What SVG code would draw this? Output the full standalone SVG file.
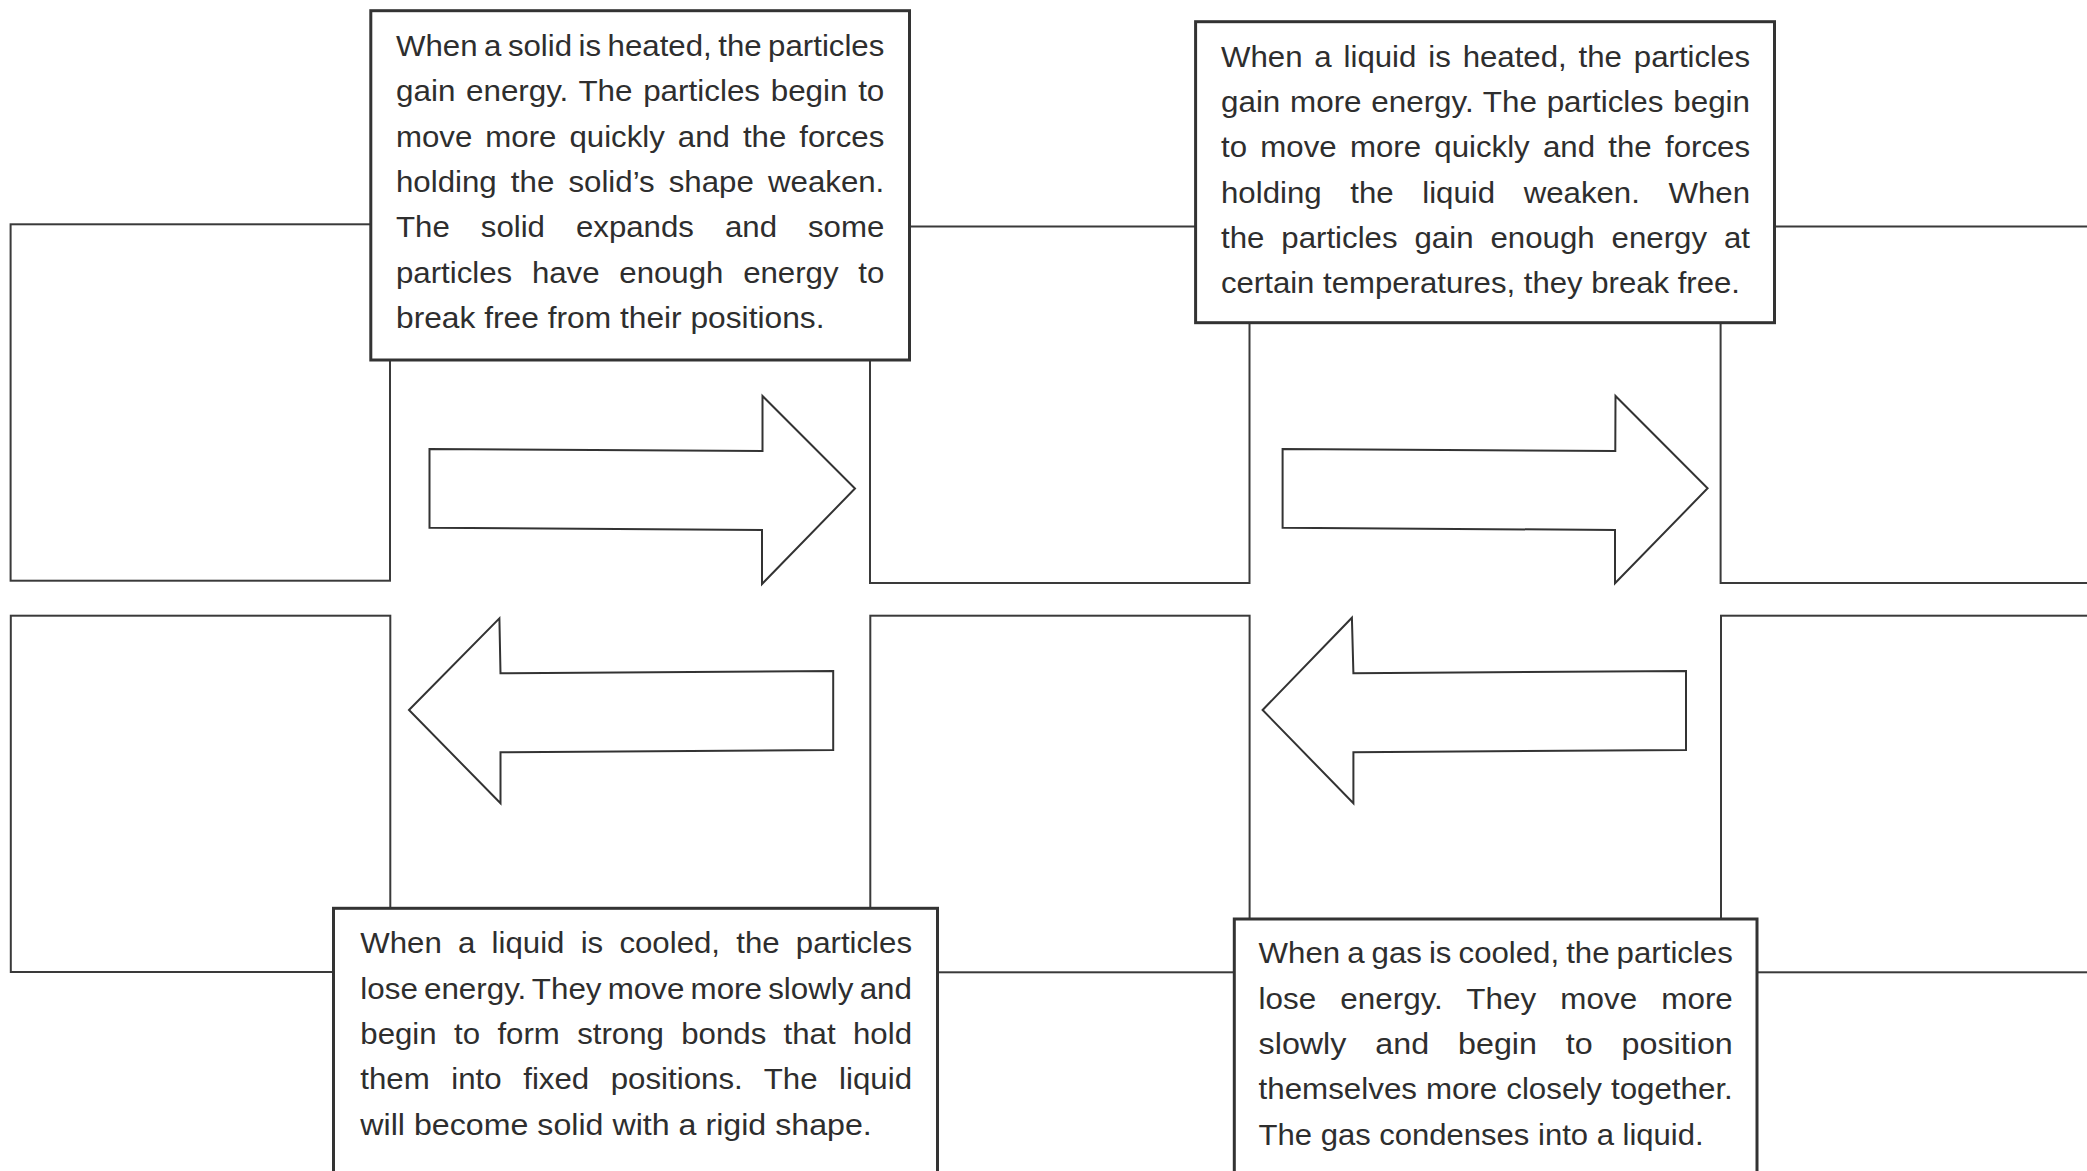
<svg xmlns="http://www.w3.org/2000/svg" width="2087" height="1171" viewBox="0 0 2087 1171">
<style>
.box{fill:#fff;stroke:#3a3a3a;stroke-width:2}
.tbox{fill:#fff;stroke:#333;stroke-width:3}
.arrow{fill:#fff;stroke:#333;stroke-width:2;stroke-linejoin:miter}
.t{font-family:"Liberation Sans",Arial,sans-serif;font-size:30px;fill:#2e2e2e}
</style>
<rect width="2087" height="1171" fill="#fff"/>
<g id="box-top-left"><rect class="box" x="10.6" y="224.3" width="379.4" height="356.4"/></g>
<g id="box-top-middle"><rect class="box" x="870" y="226.5" width="379.5" height="356.5"/></g>
<g id="box-top-right"><rect class="box" x="1720.6" y="226.5" width="420" height="356.5"/></g>
<g id="box-bottom-left"><rect class="box" x="10.8" y="615.7" width="379.5" height="356.3"/></g>
<g id="box-bottom-middle"><rect class="box" x="870.3" y="615.7" width="379.3" height="356.6"/></g>
<g id="box-bottom-right"><rect class="box" x="1721" y="615.7" width="420" height="356.6"/></g>
<g id="connectors">
<polygon class="arrow" points="429.5,449 762.5,451 762.5,396 855,488.5 762,584 762,530 429.5,527.7"/>
<polygon class="arrow" points="1282.6,449 1615.3,451 1615.5,396 1707.6,488.3 1615,583.3 1615,530 1282.6,527.7"/>
<polygon class="arrow" points="409,710 499.4,618.3 500.5,673.3 833.2,671 833.2,750 500.5,752.3 500.5,803.3"/>
<polygon class="arrow" points="1262.6,710 1351.9,617.7 1353.4,673.3 1686,671 1686,750 1353.4,752.3 1353.4,803.3"/>
</g>
<g id="text-solid-heated">
<rect class="tbox" x="370.8" y="10.7" width="538.7" height="349.3"/>
<text class="t" x="396" y="56" textLength="488.3" lengthAdjust="spacingAndGlyphs" style="word-spacing:-2.07px">When a solid is heated, the particles</text>
<text class="t" x="396" y="101.3" textLength="488.3" lengthAdjust="spacingAndGlyphs" style="word-spacing:1.85px">gain energy. The particles begin to</text>
<text class="t" x="396" y="146.6" textLength="488.3" lengthAdjust="spacingAndGlyphs" style="word-spacing:4.2px">move more quickly and the forces</text>
<text class="t" x="396" y="191.9" textLength="488.3" lengthAdjust="spacingAndGlyphs" style="word-spacing:5.24px">holding the solid’s shape weaken.</text>
<text class="t" x="396" y="237.2" textLength="488.3" lengthAdjust="spacingAndGlyphs" style="word-spacing:21.5px">The solid expands and some</text>
<text class="t" x="396" y="282.5" textLength="488.3" lengthAdjust="spacingAndGlyphs" style="word-spacing:10.65px">particles have enough energy to</text>
<text class="t" x="396" y="327.8" textLength="428.5" lengthAdjust="spacingAndGlyphs">break free from their positions.</text>
</g>
<g id="text-liquid-heated">
<rect class="tbox" x="1195.6" y="21.7" width="578.9" height="301"/>
<text class="t" x="1221" y="66.7" textLength="529" lengthAdjust="spacingAndGlyphs" style="word-spacing:3.07px">When a liquid is heated, the particles</text>
<text class="t" x="1221" y="112" textLength="529" lengthAdjust="spacingAndGlyphs" style="word-spacing:1.02px">gain more energy. The particles begin</text>
<text class="t" x="1221" y="157.3" textLength="529" lengthAdjust="spacingAndGlyphs" style="word-spacing:4.46px">to move more quickly and the forces</text>
<text class="t" x="1221" y="202.6" textLength="529" lengthAdjust="spacingAndGlyphs" style="word-spacing:19.19px">holding the liquid weaken. When</text>
<text class="t" x="1221" y="247.9" textLength="529" lengthAdjust="spacingAndGlyphs" style="word-spacing:8.01px">the particles gain enough energy at</text>
<text class="t" x="1221" y="293.2" textLength="519" lengthAdjust="spacingAndGlyphs">certain temperatures, they break free.</text>
</g>
<g id="text-liquid-cooled">
<rect class="tbox" x="333.5" y="908.3" width="604" height="320"/>
<text class="t" x="360.3" y="953.3" textLength="551.7" lengthAdjust="spacingAndGlyphs" style="word-spacing:7.27px">When a liquid is cooled, the particles</text>
<text class="t" x="360.3" y="998.6" textLength="551.7" lengthAdjust="spacingAndGlyphs" style="word-spacing:-2.45px">lose energy. They move more slowly and</text>
<text class="t" x="360.3" y="1043.9" textLength="551.7" lengthAdjust="spacingAndGlyphs" style="word-spacing:8.37px">begin to form strong bonds that hold</text>
<text class="t" x="360.3" y="1089.2" textLength="551.7" lengthAdjust="spacingAndGlyphs" style="word-spacing:12.39px">them into fixed positions. The liquid</text>
<text class="t" x="360.3" y="1134.5" textLength="511.5" lengthAdjust="spacingAndGlyphs">will become solid with a rigid shape.</text>
</g>
<g id="text-gas-cooled">
<rect class="tbox" x="1234.3" y="919" width="522.7" height="320"/>
<text class="t" x="1258.6" y="963.3" textLength="474.2" lengthAdjust="spacingAndGlyphs" style="word-spacing:-1.54px">When a gas is cooled, the particles</text>
<text class="t" x="1258.6" y="1008.6" textLength="474.2" lengthAdjust="spacingAndGlyphs" style="word-spacing:14.79px">lose energy. They move more</text>
<text class="t" x="1258.6" y="1053.9" textLength="474.2" lengthAdjust="spacingAndGlyphs" style="word-spacing:18.53px">slowly and begin to position</text>
<text class="t" x="1258.6" y="1099.2" textLength="474.2" lengthAdjust="spacingAndGlyphs" style="word-spacing:0.27px">themselves more closely together.</text>
<text class="t" x="1258.6" y="1144.5" textLength="445" lengthAdjust="spacingAndGlyphs">The gas condenses into a liquid.</text>
</g>
</svg>
